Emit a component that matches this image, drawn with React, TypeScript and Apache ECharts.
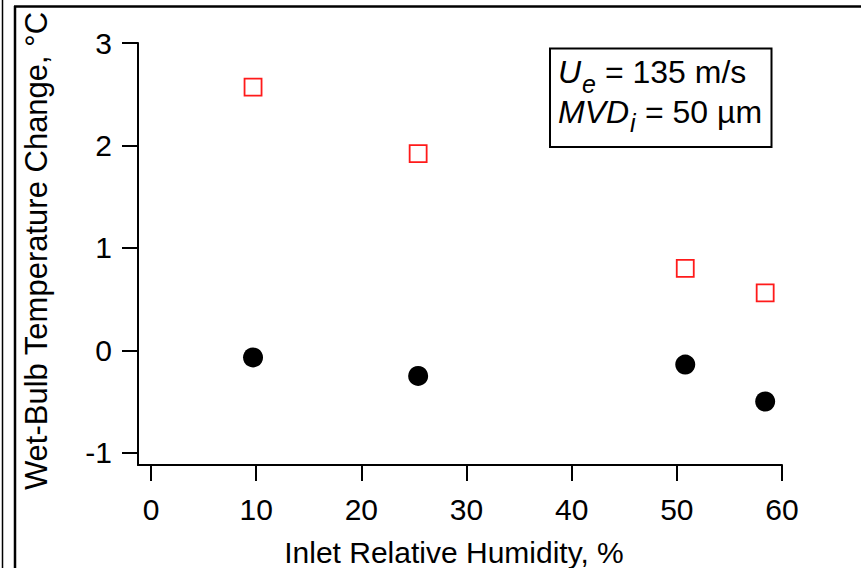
import React, { useEffect, useRef } from "react";
import * as echarts from "echarts";

const humidity = [9.7, 25.4, 50.8, 58.4];
const squareValues = [2.57, 1.92, 0.8, 0.56];
const circleValues = [-0.07, -0.25, -0.14, -0.5];
const xTicks = [0, 10, 20, 30, 40, 50, 60];
const yTicks = [-1, 0, 1, 2, 3];

const FONT = "'Liberation Sans', Arial, sans-serif";

export default function App() {
  const ref = useRef<HTMLDivElement>(null);
  useEffect(() => {
    if (!ref.current) return;
    const chart = echarts.init(ref.current, null, { renderer: "svg" });
    const axisLine = { show: true, onZero: false, lineStyle: { color: "#000", width: 2 } };
    const tick = { show: true, inside: false, length: 16, lineStyle: { color: "#000", width: 2 } };
    const txt = (x: number, y: number, text: string, size: number, italic = false) => ({
      type: "text",
      x,
      y,
      style: {
        text,
        fontSize: size,
        fontFamily: FONT,
        fontStyle: italic ? "italic" : "normal",
        fill: "#000",
        align: "left",
        verticalAlign: "middle",
      },
    });
    chart.setOption({
      animation: false,
      backgroundColor: "#fff",
      grid: { left: 138, right: 79, top: 43, bottom: 103, containLabel: false },
      xAxis: {
        type: "value",
        min: -1.24,
        max: 60,
        axisLine,
        splitLine: { show: false },
        axisTick: { ...tick, customValues: xTicks },
        axisLabel: {
          customValues: xTicks,
          margin: 29,
          fontSize: 30,
          fontFamily: FONT,
          color: "#000",
        },
      },
      yAxis: {
        type: "value",
        min: -1.12,
        max: 3,
        axisLine,
        splitLine: { show: false },
        axisTick: { ...tick, customValues: yTicks },
        axisLabel: {
          customValues: yTicks,
          margin: 26,
          fontSize: 30,
          fontFamily: FONT,
          color: "#000",
        },
      },
      series: [
        {
          type: "scatter",
          symbol: "rect",
          symbolSize: 17,
          data: humidity.map((h, i) => [h, squareValues[i]]),
          itemStyle: { color: "rgba(0,0,0,0)", borderColor: "#ff1a1a", borderWidth: 1.8, opacity: 1 },
        },
        {
          type: "scatter",
          symbol: "circle",
          symbolSize: 20,
          data: humidity.map((h, i) => [h, circleValues[i]]),
          itemStyle: { color: "#000", opacity: 1 },
        },
      ],
      graphic: [
        { type: "line", shape: { x1: 2.5, y1: 0, x2: 2.5, y2: 568 }, style: { stroke: "#000", lineWidth: 1.5 } },
        { type: "line", shape: { x1: 15, y1: 6, x2: 15, y2: 568 }, style: { stroke: "#000", lineWidth: 2.5 } },
        { type: "line", shape: { x1: 14, y1: 6.5, x2: 861, y2: 6.5 }, style: { stroke: "#000", lineWidth: 2.5 } },
        {
          type: "text",
          x: 36,
          y: 251,
          rotation: Math.PI / 2,
          style: {
            text: "Wet-Bulb Temperature Change, °C",
            fontSize: 31,
            fontFamily: FONT,
            fill: "#000",
            align: "center",
            verticalAlign: "middle",
          },
        },
        {
          type: "text",
          x: 454,
          y: 552,
          style: {
            text: "Inlet Relative Humidity, %",
            fontSize: 30,
            fontFamily: FONT,
            fill: "#000",
            align: "center",
            verticalAlign: "middle",
          },
        },
        {
          type: "rect",
          shape: { x: 550, y: 48.5, width: 221.5, height: 98.5 },
          style: { fill: "#fff", stroke: "#000", lineWidth: 2 },
        },
        txt(558, 71.5, "U", 32, true),
        txt(582, 84, "e", 25, true),
        txt(596, 71.5, " = 135 m/s", 32),
        txt(558, 112, "MVD", 32, true),
        txt(630, 123, "i", 25, true),
        txt(636, 112, " = 50 µm", 32),
      ],
    });
    return () => chart.dispose();
  }, []);
  return (
    <div
      ref={ref}
      style={{ position: "fixed", left: 0, top: 0, width: 861, height: 568 }}
    />
  );
}
